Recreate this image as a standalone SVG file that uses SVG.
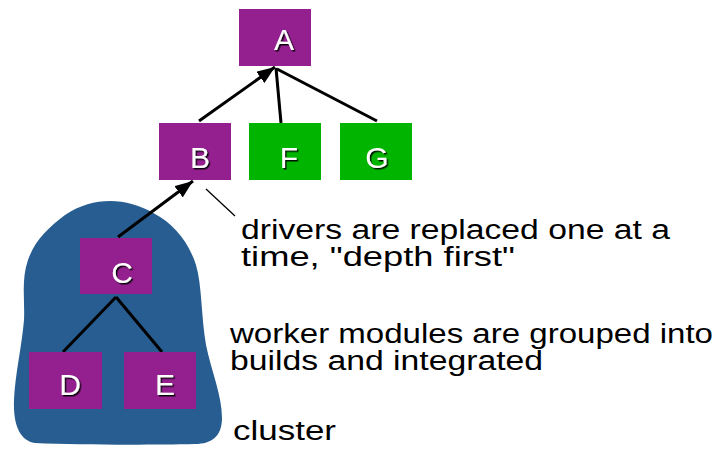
<svg xmlns="http://www.w3.org/2000/svg" width="722" height="451" viewBox="0 0 722 451">
<style>
.box{stroke:none}
.p{fill:#93208e}
.g{fill:#00b400}
.lbl{font-family:"Liberation Sans",Arial,sans-serif;font-size:30px;fill:#ffffff;text-anchor:middle;filter:url(#sh)}
.note{font-family:"Liberation Sans",Arial,sans-serif;font-size:27px;fill:#000000}
.edge{stroke:#000;stroke-width:3;fill:none}
</style>
<defs>
<filter id="sh" x="-30%" y="-30%" width="160%" height="160%">
<feDropShadow dx="1.5" dy="1.5" stdDeviation="0.6" flood-color="#000" flood-opacity="0.9"/>
</filter>
<marker id="arr" markerUnits="userSpaceOnUse" markerWidth="20" markerHeight="14" refX="18" refY="7" orient="auto">
<path d="M0,0 L18,7 L0,14 z" fill="#000"/>
</marker>
</defs>
<rect width="722" height="451" fill="#ffffff"/>
<g id="cluster">
<path d="M110,201 C125,201 140,205 155,214 C172,223 188,240 196,265 C202,285 201,315 206,345 C211,370 222,395 222,418 C222,436 212,444 195,444 C150,445 80,445 35,443 C20,441 13,425 14,400 C15,375 22,345 24,320 C25,300 21,280 28,260 C35,240 48,228 65,215 C80,205 95,201 110,201 Z" fill="#275d90"/>
</g>
<g id="connectors">
<line class="edge" x1="199" y1="121" x2="275" y2="67" marker-end="url(#arr)"/>
<line class="edge" x1="281" y1="123" x2="276" y2="68"/>
<line class="edge" x1="377" y1="121" x2="277" y2="69"/>
<line class="edge" x1="118" y1="237" x2="193" y2="181" marker-end="url(#arr)"/>
<line class="edge" x1="116" y1="297" x2="63" y2="352"/>
<line class="edge" x1="116" y1="297" x2="162" y2="352"/>
<line x1="206" y1="189" x2="235" y2="216" stroke="#000" stroke-width="1.3"/>
</g>
<g id="node-A"><rect class="box p" x="239" y="9" width="72" height="57"/><text class="lbl" x="284" y="50">A</text></g>
<g id="node-B"><rect class="box p" x="159" y="123" width="72" height="57"/><text class="lbl" x="200" y="168">B</text></g>
<g id="node-F"><rect class="box g" x="249" y="123" width="72" height="57"/><text class="lbl" x="289" y="168">F</text></g>
<g id="node-G"><rect class="box g" x="340" y="123" width="72" height="57"/><text class="lbl" x="377" y="168">G</text></g>
<g id="node-C"><rect class="box p" x="80" y="238" width="72" height="56"/><text class="lbl" x="122" y="283">C</text></g>
<g id="node-D"><rect class="box p" x="29" y="352" width="73" height="57"/><text class="lbl" x="70" y="395">D</text></g>
<g id="node-E"><rect class="box p" x="124" y="352" width="72" height="57"/><text class="lbl" x="165" y="395">E</text></g>
<g id="notes">
<text class="note"><tspan x="241" y="239" textLength="429" lengthAdjust="spacingAndGlyphs">drivers are replaced one at a</tspan><tspan x="241" y="266" textLength="274" lengthAdjust="spacingAndGlyphs">time, "depth first"</tspan></text>
<text class="note"><tspan x="230" y="343" textLength="483" lengthAdjust="spacingAndGlyphs">worker modules are grouped into</tspan><tspan x="230" y="370" textLength="313" lengthAdjust="spacingAndGlyphs">builds and integrated</tspan></text>
<text class="note" x="233" y="440" textLength="103" lengthAdjust="spacingAndGlyphs">cluster</text>
</g>
</svg>
